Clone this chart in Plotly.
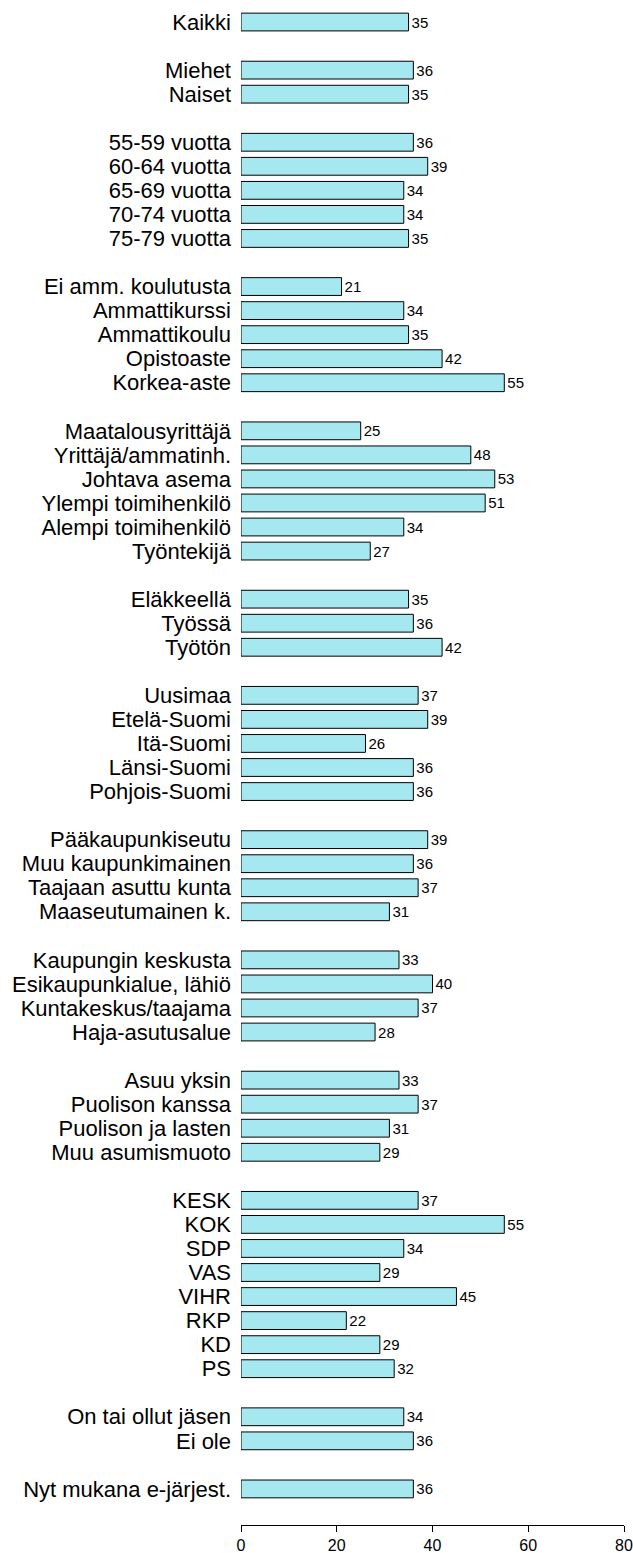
import plotly.graph_objects as go

# Share (%) by background group; groups are separated by an empty row
labels = [
    "Kaikki",
    "Miehet", "Naiset",
    "55-59 vuotta", "60-64 vuotta", "65-69 vuotta", "70-74 vuotta", "75-79 vuotta",
    "Ei amm. koulutusta", "Ammattikurssi", "Ammattikoulu", "Opistoaste", "Korkea-aste",
    "Maatalousyrittäjä", "Yrittäjä/ammatinh.", "Johtava asema", "Ylempi toimihenkilö",
    "Alempi toimihenkilö", "Työntekijä",
    "Eläkkeellä", "Työssä", "Työtön",
    "Uusimaa", "Etelä-Suomi", "Itä-Suomi", "Länsi-Suomi", "Pohjois-Suomi",
    "Pääkaupunkiseutu", "Muu kaupunkimainen", "Taajaan asuttu kunta", "Maaseutumainen k.",
    "Kaupungin keskusta", "Esikaupunkialue, lähiö", "Kuntakeskus/taajama", "Haja-asutusalue",
    "Asuu yksin", "Puolison kanssa", "Puolison ja lasten", "Muu asumismuoto",
    "KESK", "KOK", "SDP", "VAS", "VIHR", "RKP", "KD", "PS",
    "On tai ollut jäsen", "Ei ole",
    "Nyt mukana e-järjest.",
]
values = [
    35,
    36, 35,
    36, 39, 34, 34, 35,
    21, 34, 35, 42, 55,
    25, 48, 53, 51, 34, 27,
    35, 36, 42,
    37, 39, 26, 36, 36,
    39, 36, 37, 31,
    33, 40, 37, 28,
    33, 37, 31, 29,
    37, 55, 34, 29, 45, 22, 29, 32,
    34, 36,
    36,
]
group_sizes = [1, 2, 5, 5, 6, 3, 5, 4, 4, 4, 8, 2, 1]
x_ticks = [0, 20, 40, 60, 80]

# Row index of each bar, leaving one blank row between groups
rows = []
r = 0
for size in group_sizes:
    for _ in range(size):
        rows.append(r)
        r += 1
    r += 1
n_rows = r - 1

fig = go.Figure(
    go.Bar(
        x=values,
        y=rows,
        orientation="h",
        width=0.74,
        marker=dict(color="#A5E8F0", line=dict(color="#000000", width=1)),
        text=[str(v) for v in values],
        textposition="outside",
        constraintext="none",
        textfont=dict(family="Liberation Sans, Arial, sans-serif", size=15, color="#000000"),
        cliponaxis=False,
        hoverinfo="skip",
    )
)

fig.update_layout(
    width=633,
    height=1553,
    margin=dict(l=241, r=9, t=10, b=28, autoexpand=False),
    paper_bgcolor="white",
    plot_bgcolor="white",
    showlegend=False,
    font=dict(family="Liberation Sans, Arial, sans-serif", color="#000000"),
)

fig.update_xaxes(
    range=[0, 80],
    tickvals=x_ticks,
    ticktext=[str(t) for t in x_ticks],
    showgrid=False,
    zeroline=False,
    showline=True,
    linecolor="#000000",
    linewidth=1,
    ticks="outside",
    ticklen=6,
    tickcolor="#000000",
    tickfont=dict(size=16),
    automargin=False,
)

fig.update_yaxes(
    range=[n_rows + 0.5, -0.5],
    tickvals=rows,
    ticktext=labels,
    showgrid=False,
    zeroline=False,
    showline=False,
    ticks="",
    ticklabelstandoff=9,
    tickfont=dict(size=22),
    automargin=False,
)

fig.write_html("out.html")
